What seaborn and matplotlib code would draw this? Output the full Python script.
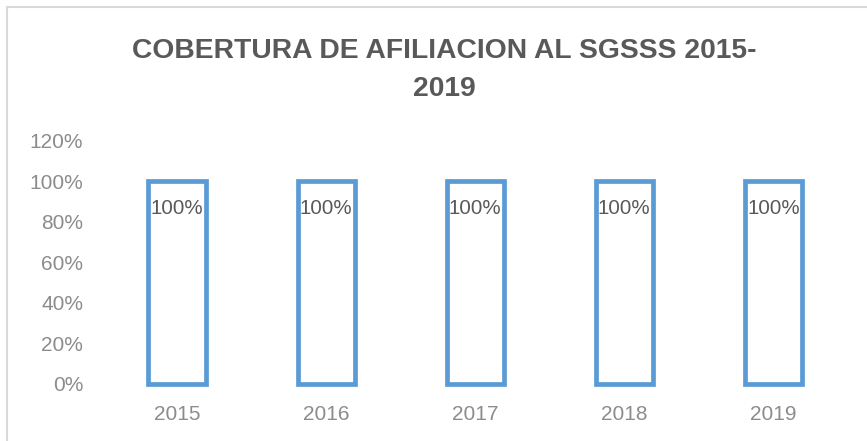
import matplotlib
matplotlib.use("Agg")
import matplotlib.pyplot as plt
import seaborn as sns
import pandas as pd
from matplotlib.patches import Rectangle

years = ["2015", "2016", "2017", "2018", "2019"]
coverage = [1.00, 1.00, 1.00, 1.00, 1.00]
value_labels = ["100%", "100%", "100%", "100%", "100%"]
y_ticks = [0, 0.2, 0.4, 0.6, 0.8, 1.0, 1.2]
y_tick_labels = ["0%", "20%", "40%", "60%", "80%", "100%", "120%"]
title = "COBERTURA DE AFILIACION AL SGSSS 2015-\n2019"

sns.set_theme(style="white")
plt.rcParams['font.family'] = ['Liberation Sans', 'DejaVu Sans']

df = pd.DataFrame({"year": years, "coverage": coverage})

fig = plt.figure(figsize=(8.67, 4.41), dpi=100)
ax = fig.add_axes([0.1182, 0.1293, 0.978 - 0.1182, 0.6816 - 0.1293])

sns.barplot(data=df, x="year", y="coverage", ax=ax, fill=False,
            color="#5B9BD5", width=0.383, linewidth=3.4)
for p in ax.patches:
    p.set_edgecolor("#5B9BD5")
    p.set_facecolor("none")
    p.set_linewidth(3.4)
    p.set_clip_on(False)

for i, (v, lab) in enumerate(zip(coverage, value_labels)):
    ax.text(i, v - 0.135, lab, ha="center", va="center",
            fontsize=14.8, color="#595959")

ax.set_ylim(0, 1.2)
ax.set_xlim(-0.5, len(years) - 0.5)
ax.set_yticks(y_ticks)
ax.set_yticklabels(y_tick_labels)
ax.set_xlabel("")
ax.set_ylabel("")
ax.tick_params(axis="y", labelsize=15, labelcolor="#8c8c8c", length=0, pad=14)
ax.tick_params(axis="x", labelsize=15, labelcolor="#8c8c8c", length=0, pad=15)
for s in ax.spines.values():
    s.set_visible(False)
ax.grid(False)

fig.text(0.512, 0.841, title, ha="center", va="center", fontsize=20.3,
         fontweight="bold", color="#595959", linespacing=1.6)

fig.patches.append(Rectangle((7 / 867, -0.1), 1.2, 1.1 - 7 / 441,
                             transform=fig.transFigure, fill=False,
                             edgecolor="#d9d9d9", linewidth=1.5))

fig.savefig("out.png", dpi=100)
